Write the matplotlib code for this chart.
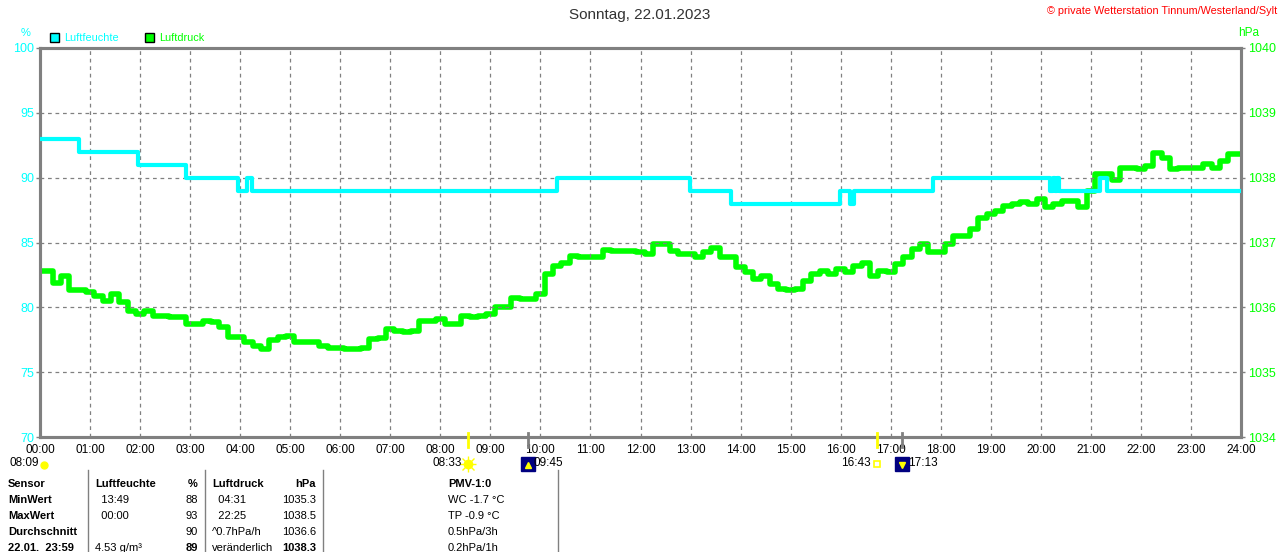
import numpy as np
import matplotlib
matplotlib.use("Agg")
import matplotlib.pyplot as plt
from matplotlib import transforms

plt.rcParams["font.family"] = ["Liberation Sans", "DejaVu Sans"]

W, H = 1280, 552
CYAN = "#00ffff"
GREEN = "#00ff00"
GREY = "#808080"

# humidity (%) step changes, hours of day
HUM_T = [0, 0.77, 1.96, 2.91, 3.96, 4.13, 4.24, 10.34, 12.98, 13.81, 15.98,
         16.19, 16.26, 17.85, 20.19, 20.24, 20.28, 20.32, 20.36, 21.19, 21.33, 24]
HUM_V = [93, 92, 91, 90, 89, 90, 89, 90, 89, 88, 89,
         88, 89, 90, 89, 90, 89, 90, 89, 90, 89, 89]

# pressure (hPa), one reading every 10 minutes from 00:00 to 24:00
PRESSURE = [
    1036.56, 1036.56, 1036.38, 1036.49, 1036.26, 1036.26,
    1036.23, 1036.18, 1036.10, 1036.21, 1036.08, 1035.95,
    1035.90, 1035.95, 1035.87, 1035.87, 1035.85, 1035.85,
    1035.74, 1035.74, 1035.79, 1035.77, 1035.69, 1035.55,
    1035.54, 1035.46, 1035.41, 1035.36, 1035.49, 1035.54,
    1035.56, 1035.46, 1035.46, 1035.46, 1035.41, 1035.38,
    1035.38, 1035.36, 1035.36, 1035.38, 1035.51, 1035.52,
    1035.67, 1035.64, 1035.62, 1035.64, 1035.79, 1035.79,
    1035.82, 1035.74, 1035.74, 1035.87, 1035.85, 1035.87,
    1035.90, 1036.00, 1036.00, 1036.15, 1036.13, 1036.13,
    1036.21, 1036.51, 1036.64, 1036.69, 1036.79, 1036.77,
    1036.77, 1036.77, 1036.89, 1036.87, 1036.87, 1036.87,
    1036.85, 1036.82, 1036.97, 1036.97, 1036.87, 1036.82,
    1036.82, 1036.77, 1036.85, 1036.92, 1036.77, 1036.77,
    1036.62, 1036.54, 1036.44, 1036.49, 1036.36, 1036.28,
    1036.26, 1036.28, 1036.41, 1036.51, 1036.56, 1036.51,
    1036.59, 1036.54, 1036.64, 1036.69, 1036.49, 1036.56,
    1036.54, 1036.67, 1036.77, 1036.90, 1036.97, 1036.85,
    1036.85, 1036.97, 1037.10, 1037.10, 1037.21, 1037.38,
    1037.44, 1037.49, 1037.56, 1037.59, 1037.62, 1037.59,
    1037.67, 1037.54, 1037.59, 1037.64, 1037.64, 1037.54,
    1037.79, 1038.05, 1038.05, 1037.97, 1038.15, 1038.15,
    1038.13, 1038.18, 1038.38, 1038.31, 1038.13, 1038.15,
    1038.15, 1038.15, 1038.21, 1038.15, 1038.26, 1038.36,
    1038.36,
]
PRESSURE_T = np.arange(len(PRESSURE)) / 6.0

X_LABELS = [f"{h:02d}:00" for h in range(25)]
HUM_TICKS = [70, 75, 80, 85, 90, 95, 100]
HPA_TICKS = [1034, 1035, 1036, 1037, 1038, 1039, 1040]

# sun / moon events (hours)
SUNRISE, SUNSET = 8 + 33 / 60, 16 + 43 / 60
MOONRISE, MOONSET = 9 + 45 / 60, 17 + 13 / 60

TABLE_ROWS = ["Sensor", "MinWert", "MaxWert", "Durchschnitt", "22.01.  23:59"]
HUM_TIMES = ["Luftfeuchte", "  13:49", "  00:00", "", "4.53 g/m³"]
HUM_VALS = ["%", "88", "93", "90", "89"]
HPA_TIMES = ["Luftdruck", "  04:31", "  22:25", "^0.7hPa/h", "veränderlich"]
HPA_VALS = ["hPa", "1035.3", "1038.5", "1036.6", "1038.3"]
PMV = ["PMV-1:0", "WC -1.7 °C", "TP -0.9 °C", "0.5hPa/3h", "0.2hPa/1h"]


def fy(y):
    return 1 - y / H


def fx(x):
    return x / W


fig = plt.figure(figsize=(W / 100, H / 100), dpi=100, facecolor="white")
ax = fig.add_axes([fx(40), fy(437), 1201 / W, 389 / H])
ax2 = ax.twinx()

ax.set_xlim(0, 24)
ax.set_ylim(70, 100)
ax2.set_ylim(1034, 1040)

ax.set_xticks(range(25))
ax.set_xticklabels(X_LABELS)
ax.set_yticks(HUM_TICKS)
ax2.set_yticks(HPA_TICKS)
ax.grid(True, color=GREY, linestyle=(0, (3, 3)), linewidth=0.9)
ax.tick_params(axis="x", length=0, pad=5, labelsize=8.5, colors="black")
ax.tick_params(axis="y", length=3, width=1, pad=1, labelsize=9,
               color=GREY, labelcolor=CYAN)
ax2.tick_params(axis="y", length=3, width=1, pad=2, labelsize=9,
                color=GREY, labelcolor=GREEN)
for a in (ax, ax2):
    for s in a.spines.values():
        s.set_color(GREY)
        s.set_linewidth(2.2)

ax2.plot(PRESSURE_T, PRESSURE, color=GREEN, linewidth=4.0,
         drawstyle="steps-mid", zorder=3)
ax.step(HUM_T, HUM_V, where="post", color=CYAN, linewidth=3.0, zorder=4)
ax.set_zorder(ax2.get_zorder() + 1)
ax.patch.set_visible(False)

# header texts
fig.text(0.5, fy(15), "Sonntag, 22.01.2023", ha="center", va="center",
         fontsize=11, color="#333333")
fig.text(fx(1277), fy(11), "© private Wetterstation Tinnum/Westerland/Sylt",
         ha="right", va="center", fontsize=7.8, color="red")
fig.text(fx(26), fy(33), "%", ha="center", va="center", fontsize=8, color=CYAN)
fig.text(fx(1259), fy(33), "hPa", ha="right", va="center", fontsize=8.5,
         color=GREEN)
for x0, col, label in ((50, CYAN, "Luftfeuchte"), (145, GREEN, "Luftdruck")):
    fig.add_artist(plt.Rectangle((fx(x0), fy(42)), 9 / W, 9 / H,
                                 transform=fig.transFigure, facecolor=col,
                                 edgecolor="black", linewidth=1))
    fig.text(fx(x0 + 14), fy(38), label, ha="left", va="center",
             fontsize=7.8, color=col)

# sun and moon markers below the axis
tr = transforms.blended_transform_factory(ax.transData, fig.transFigure)
for h, col in ((SUNRISE, "#ffff00"), (SUNSET, "#ffff00"),
               (MOONRISE, GREY), (MOONSET, GREY)):
    ax.plot([h, h], [fy(433), fy(447)], transform=tr, color=col,
            linewidth=2, clip_on=False, zorder=6)

ax.plot([SUNRISE], [fy(464)], transform=tr, marker="o", ms=6,
        color="#ffff00", clip_on=False)
ax.plot([SUNRISE], [fy(464)], transform=tr, marker="+", ms=11, mew=1,
        color="#ffff00", clip_on=False)
ax.plot([SUNRISE], [fy(464)], transform=tr, marker="x", ms=8, mew=1,
        color="#ffff00", clip_on=False)
ax.plot([SUNSET], [fy(464)], transform=tr, marker="s", ms=5, mfc="white",
        mec="#ffff00", mew=1.2, clip_on=False)
for h, m in ((MOONRISE, "^"), (MOONSET, "v")):
    ax.plot([h], [fy(464)], transform=tr, marker="s", ms=10, color="#000080",
            clip_on=False)
    ax.plot([h], [fy(465)], transform=tr, marker=m, ms=5, color="#ffff00",
            clip_on=False)

fig.text(fx(10), fy(463), "08:09", ha="left", va="center", fontsize=8.5)
ax.plot([0.08], [fy(465)], transform=tr, marker="o", ms=5, color="#ffff00",
        clip_on=False)
for h, label, dx, ha in ((SUNRISE, "08:33", -6, "right"),
                         (MOONRISE, "09:45", 6, "left"),
                         (SUNSET, "16:43", -6, "right"),
                         (MOONSET, "17:13", 6, "left")):
    ax.annotate(label, (h, fy(463)), xycoords=tr, xytext=(dx * 0.72, 0),
                textcoords="offset points", ha=ha, va="center", fontsize=8.5,
                annotation_clip=False)

# statistics table
for x in (88, 205, 323, 558):
    fig.add_artist(plt.Line2D([fx(x), fx(x)], [fy(470), fy(552)],
                              transform=fig.transFigure, color=GREY,
                              linewidth=1))
ROW_Y = [484, 500, 516, 532, 548]
for i, y in enumerate(ROW_Y):
    head = "bold" if i == 0 else "normal"
    last = "bold" if i in (0, 4) else "normal"
    fig.text(fx(8), fy(y), TABLE_ROWS[i], ha="left", va="center",
             fontsize=8, weight="bold")
    fig.text(fx(95), fy(y), HUM_TIMES[i], ha="left", va="center",
             fontsize=8, weight=head)
    fig.text(fx(198), fy(y), HUM_VALS[i], ha="right", va="center",
             fontsize=8, weight=last)
    fig.text(fx(212), fy(y), HPA_TIMES[i], ha="left", va="center",
             fontsize=8, weight=head)
    fig.text(fx(316), fy(y), HPA_VALS[i], ha="right", va="center",
             fontsize=8, weight=last)
    fig.text(fx(448), fy(y), PMV[i], ha="left", va="center",
             fontsize=8, weight=head)

fig.savefig("out.png", dpi=100, facecolor="white")
